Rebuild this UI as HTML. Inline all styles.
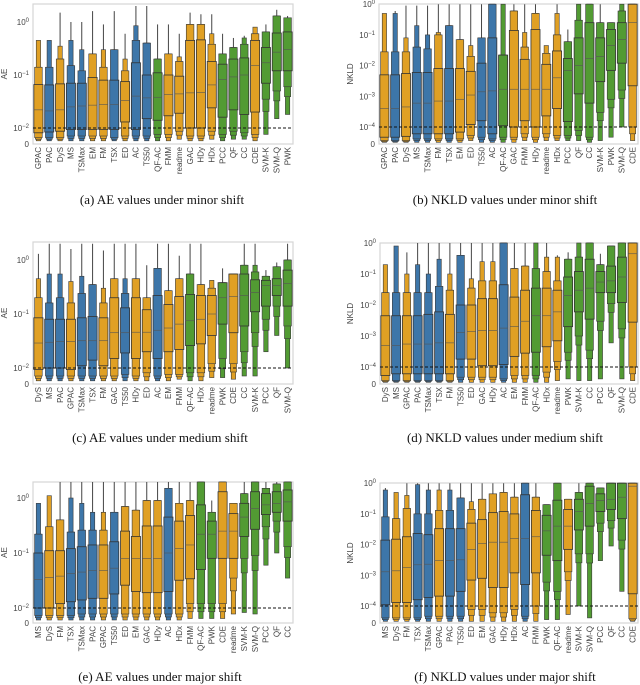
<!DOCTYPE html>
<html><head><meta charset="utf-8">
<style>
html,body{margin:0;padding:0;background:#fff;}
svg{display:block;}
.tk{font-family:"Liberation Sans",sans-serif;font-size:8px;fill:#444;}
.cap{font-family:"Liberation Serif",serif;font-size:13px;fill:#111;}
</style></head>
<body>
<svg id="fig" width="640" height="685" viewBox="0 0 640 685" xmlns="http://www.w3.org/2000/svg"></svg>
<script>
// ---- Panel (a) AE minor ----
const namesA=["GPAC","PAC","DyS","MS","TSMax","EM","FM","TSX","ED","AC","TS50","QF-AC","FMM","readme","GAC","HDy","HDx","PCC","QF","CC","CDE","SVM-K","SVM-Q","PWK"];
const medA=[.022,.021,.022,.025,.026,.027,.028,.028,.033,.04,.037,.038,.043,.044,.046,.047,.065,.083,.092,.1,.15,.17,.27,.3];
const q1A=[.007,.0075,.008,.009,.009,.009,.009,.009,.013,.009,.015,.014,.017,.019,.01,.01,.024,.016,.022,.018,.02,.07,.12,.12];
const q3A=[.066,.065,.068,.07,.07,.09,.08,.08,.075,.17,.1,.11,.1,.095,.45,.46,.18,.16,.2,.21,.45,.33,.62,.65];
const hi2A=[.14,.14,.2,.15,.12,.25,.14,.3,.12,.45,.4,.2,.25,.18,.9,.9,.38,.25,.33,.38,.6,.65,1.3,1.2];
const hi3A=[.45,.45,.35,.45,.3,.25,.3,.3,.2,.85,.4,.2,.25,.22,.9,.9,.6,.25,.33,.5,.8,.65,1.3,1.2];
const topA=[.45,.45,1.5,1,1,1.6,.9,1.6,.6,2,2,.9,.9,.6,1.5,1.4,1.4,.6,.5,.55,.8,.9,1.7,1.3];
const lo2A=[.004,.004,.004,.005,.005,.005,.005,.004,.005,.005,.005,.006,.006,.008,.005,.005,.008,.006,.008,.007,.006,.035,.05,.06];
const lo3A=[.002,.002,.002,.002,.002,.002,.002,.002,.002,.002,.002,.002,.002,.003,.002,.002,.003,.002,.003,.003,.002,.006,.015,.018];
// ---- Panel (b) NKLD minor ----
const namesB=["GPAC","PAC","DyS","MS","TSMax","FM","TSX","EM","ED","TS50","AC","QF-AC","GAC","FMM","HDy","readme","HDx","PCC","QF","CC","SVM-K","PWK","SVM-Q","CDE"];
const medB=[4e-4,4e-4,4.5e-4,6e-4,6e-4,7e-4,7e-4,8e-4,1.1e-3,1.4e-3,1.5e-3,1.7e-3,1.7e-3,1.7e-3,1.7e-3,1.7e-3,4e-3,7e-3,.01,.017,.02,.045,.07,.25];
const q1B=[4e-5,4e-5,4.5e-5,6e-5,6e-5,6e-5,6e-5,7e-5,1.2e-4,1.6e-4,6e-5,1.1e-4,1e-4,1.6e-4,1e-4,2.3e-4,4e-4,1.5e-4,1.2e-3,6e-4,3e-3,7e-3,.012,2.2e-3];
const q3B=[5e-3,5e-3,5.5e-3,6e-3,6e-3,8e-3,8e-3,8e-3,6.5e-3,.012,.08,.022,.14,.016,.15,.011,.03,.017,.08,.25,.08,.15,.25,1];
const hi2B=[.028,.028,.028,.04,.035,.1,.2,.07,.02,.08,1,.022,.6,.04,.5,.025,.1,.06,.3,1,.25,.25,.6,1];
const hi3B=[.5,.5,.08,.2,.1,.12,.2,.07,.045,.08,1,1,.6,.12,.5,.045,.5,.06,1,1,.25,.25,1,1];
const topB=[.5,.6,.9,.9,.9,1,1,1,1,1,1,1,1,1,1,.045,1,.15,1,1,1,.25,1,1];
const lo2B=[2e-5,2e-5,2e-5,3e-5,3e-5,3e-5,3e-5,3e-5,5e-5,4e-5,3e-5,4e-5,4e-5,6e-5,4e-5,6e-5,5e-5,5e-5,8e-5,4e-5,3e-4,8e-4,1.6e-3,1e-4];
const lo3B=[1e-5,1e-5,1e-5,1e-5,1e-5,1e-5,1e-5,1e-5,2e-5,1e-5,1e-5,1e-5,1e-5,2e-5,1e-5,2e-5,2e-5,2e-5,2e-5,1e-5,2e-5,4e-5,1e-4,2e-5];
// ---- Panel (c) AE medium ----
const namesC=["DyS","MS","PAC","GPAC","TSMax","TSX","FM","GAC","TS50","HDy","ED","AC","EM","FMM","QF-AC","HDx","readme","PWK","CDE","CC","SVM-K","PCC","QF","SVM-Q"];
const medC=[.029,.03,.031,.031,.032,.032,.032,.045,.045,.046,.046,.05,.055,.065,.075,.08,.1,.2,.21,.22,.25,.34,.34,.37];
const q1C=[.009,.01,.01,.009,.011,.014,.011,.015,.019,.015,.02,.015,.02,.022,.026,.028,.04,.065,.045,.06,.11,.14,.22,.14];
const q3C=[.085,.08,.08,.08,.085,.09,.085,.2,.13,.2,.12,.22,.15,.21,.23,.22,.22,.38,.55,.55,.43,.42,.45,.65];
const hi2C=[.2,.16,.2,.16,.24,.35,.16,.45,.24,.45,.2,.7,.27,.45,.55,.35,.3,.38,.55,.8,.6,.5,.75,1];
const hi3C=[.45,.55,.55,.4,.5,.35,.3,.45,.45,.45,.2,.7,.27,.45,.55,.35,.42,.38,.55,.8,.8,.5,.75,1];
const topC=[1.3,2,2,1.6,2,2,1.5,2,2,2,.8,2,2,1.2,2,2,.42,.7,.55,2,2,.65,.9,2];
const lo2C=[.005,.005,.005,.005,.005,.005,.005,.005,.006,.005,.007,.005,.006,.006,.007,.007,.012,.015,.012,.02,.045,.08,.14,.06];
const lo3C=[.002,.002,.002,.002,.002,.002,.002,.002,.002,.002,.002,.002,.002,.003,.002,.002,.004,.004,.003,.005,.005,.02,.04,.01];
// ---- Panel (d) NKLD medium ----
const namesD=["DyS","MS","GPAC","PAC","TSMax","TSX","FM","TS50","ED","GAC","HDy","AC","EM","FMM","QF-AC","HDx","readme","PWK","SVM-K","CC","PCC","QF","SVM-Q","CDE"];
const medD=[5e-4,5e-4,5.5e-4,5.5e-4,5.5e-4,6e-4,6e-4,1.3e-3,1.4e-3,1.5e-3,1.5e-3,1.8e-3,2e-3,3e-3,4.5e-3,4.5e-3,6e-3,.02,.03,.035,.055,.06,.08,.45];
const q1D=[5e-5,6e-5,6e-5,6e-5,6e-5,6e-5,6e-5,1.8e-4,1.8e-4,1.1e-4,1.1e-4,1.2e-4,2.2e-4,2.8e-4,3e-4,4.5e-4,7e-4,2e-3,6e-3,3.5e-3,.025,.025,.012,2.8e-3];
const q3D=[4.5e-3,4.5e-3,4.5e-3,4.5e-3,5e-3,6e-3,5e-3,.01,.01,.016,.016,.045,.018,.03,.035,.035,.03,.08,.12,.3,.12,.18,.35,1];
const hi2D=[.025,.025,.025,.025,.025,.04,.03,.4,.035,.06,.06,1,.15,.18,.15,.12,.06,.3,.35,1,.2,.8,1,1];
const hi3D=[.2,.8,.1,.2,.1,.3,.1,.4,.07,.25,.25,1,.15,.18,1,.35,.35,.3,1,1,.2,.8,1,1];
const topD=[.2,.8,.5,1,1,1,1,1,1,1,1,1,1,1,1,1,.4,.5,1,1,.45,.8,1,1];
const lo2D=[2e-5,2e-5,2e-5,2e-5,2e-5,2e-5,2e-5,4e-5,4e-5,4e-5,4e-5,3e-5,5e-5,5e-5,5e-5,7e-5,1.5e-4,3e-4,1e-3,3.5e-4,3e-3,1.1e-2,1.7e-3,1e-4];
const lo3D=[1e-5,1e-5,1e-5,1e-5,1e-5,1e-5,1e-5,1e-5,1e-5,1e-5,1e-5,1e-5,1e-5,1e-5,1e-5,1e-5,2e-5,3e-5,2e-5,2e-5,3e-5,6e-4,3e-5,2e-5];
// ---- Panel (e) AE major ----
const namesE=["MS","DyS","FM","TSX","TSMax","PAC","GPAC","TS50","ED","EM","GAC","HDy","AC","HDx","FMM","QF-AC","PWK","CDE","readme","SVM-K","SVM-Q","PCC","QF","CC"];
const medE=[.033,.036,.038,.042,.045,.048,.048,.053,.08,.08,.08,.08,.1,.12,.14,.22,.22,.25,.25,.45,.65,.75,.8,.85];
const q1E=[.01,.01,.012,.013,.014,.015,.015,.018,.026,.02,.019,.019,.02,.032,.034,.05,.08,.08,.08,.2,.27,.5,.55,.38];
const q3E=[.1,.11,.11,.12,.13,.14,.14,.16,.25,.2,.31,.31,.45,.38,.48,.75,.38,1.3,.52,.8,1.3,1.2,1.3,1.4];
const hi2E=[.22,.3,.4,.24,.26,.26,.26,.55,.7,.6,.9,.9,1.5,.8,.9,2,.55,2,.8,1.2,2,1.5,1.8,2];
const hi3E=[.8,1.1,.4,1,.8,.55,.55,.55,.7,.6,.9,.9,1.5,.8,.9,2,.55,2,.8,1.2,2,1.5,1.8,2];
const topE=[.8,1.1,2,2,2,2,2,2,2,2,2,2,2,2,2,2,.9,2,.8,2,2,2,2,2];
const lo2E=[.005,.005,.005,.005,.006,.006,.006,.006,.006,.006,.006,.006,.006,.006,.012,.012,.012,.012,.035,.08,.09,.3,.38,.13];
const lo3E=[.002,.002,.002,.002,.002,.002,.002,.002,.002,.002,.002,.002,.002,.002,.003,.003,.003,.003,.006,.007,.006,.06,.1,.035];
// ---- Panel (f) NKLD major ----
const namesF=["MS","DyS","FM","TSX","TSMax","GPAC","PAC","TS50","ED","EM","GAC","HDy","HDx","AC","FMM","PWK","QF-AC","readme","SVM-K","SVM-Q","PCC","QF","CC","CDE"];
const medF=[1.3e-3,1.4e-3,1.8e-3,2.2e-3,2.3e-3,3e-3,3e-3,3.2e-3,7e-3,.011,.012,.012,.016,.016,.018,.028,.04,.04,.12,.22,.27,.3,.35,.8];
const q1F=[1.1e-4,1.3e-4,1.3e-4,1.6e-4,1.9e-4,2.1e-4,2.1e-4,3e-4,7e-4,8e-4,4e-4,4e-4,1.2e-3,5e-4,1.2e-3,4.5e-3,3e-3,7e-3,.03,.04,.12,.14,.07,2.5e-4];
const q3F=[.014,.015,.018,.023,.021,.033,.033,.033,.05,.065,.11,.12,.1,.42,.13,.09,.28,.14,.3,.8,.45,1,1,1];
const hi2F=[.08,.07,.15,.1,.1,.13,.13,.33,.14,.3,.45,.5,.35,1,.35,.2,1,.3,.5,1,.7,1,1,1];
const hi3F=[.6,.5,.4,.9,.6,.6,.6,.33,.25,.3,.45,.5,.35,1,.35,.2,1,.3,.5,1,.7,1,1,1];
const topF=[.7,.5,1,1,1,1,1,1,1,1,1,1,1,1,1,.2,1,.3,1,1,.7,1,1,1];
const lo2F=[3e-5,3e-5,3e-5,3e-5,4e-5,4e-5,4e-5,4e-5,8e-5,8e-5,6e-5,6e-5,8e-5,4e-5,1e-4,6e-4,3e-4,1.3e-3,5e-3,5e-3,.05,.06,.014,2.5e-5];
const lo3F=[1e-5,1e-5,1e-5,1e-5,1e-5,1e-5,1e-5,1e-5,1e-5,1e-5,1e-5,1e-5,1e-5,1e-5,1e-5,2e-5,2e-5,5e-5,1e-4,3e-5,3e-3,9e-3,3e-4,1e-5];

const ORANGE="#e0a024",BLUE="#3d76a9",GREEN="#529b33";
const colorOf={GPAC:ORANGE,DyS:ORANGE,EM:ORANGE,FM:ORANGE,ED:ORANGE,FMM:ORANGE,readme:ORANGE,GAC:ORANGE,HDy:ORANGE,HDx:ORANGE,CDE:ORANGE,
PAC:BLUE,MS:BLUE,TSMax:BLUE,TSX:BLUE,AC:BLUE,TS50:BLUE,
"QF-AC":GREEN,PCC:GREEN,QF:GREEN,CC:GREEN,"SVM-K":GREEN,"SVM-Q":GREEN,PWK:GREEN};

const NS="http://www.w3.org/2000/svg";
const svg=document.getElementById('fig');
function mk(tag,attrs,parent){const e=document.createElementNS(NS,tag);for(const k in attrs)e.setAttribute(k,attrs[k]);(parent||svg).appendChild(e);return e;}

function panel(cfg){
  const g=mk('g',{});
  
  
  const x0=cfg.x0,x1=cfg.x1,yt=cfg.yt,yb=cfg.y0;
  function yScale(v){
    if(v<=cfg.thr) return cfg.y0-(v/cfg.thr)*(cfg.y0-cfg.ythr);
    return cfg.ythr-Math.log10(v/cfg.thr)*cfg.dec;
  }
  function yc(v){return Math.max(yt,Math.min(yb,yScale(v)));}
  const n=cfg.names.length, slot=(x1-x0)/n;
  function xScale(i){return x0+slot*(i+0.5);}
  const fr=mk('rect',{x:x0,y:yt,width:x1-x0,height:yb-yt,fill:'#fff',stroke:'#d6d6d6','stroke-width':1.2},g);
  
  
  cfg.ticks.forEach(t=>{
    const y=yScale(t.v);
    const tl=mk('text',{x:x0-4,y:y+3,'text-anchor':'end',class:'tk'},g);
    
    
    if(t.e===null){tl.textContent='0';}
    else{tl.textContent='10';const s=mk('tspan',{dy:-3,'font-size':'6px'},tl);s.textContent=t.e;}
  });
  const yl=mk('text',{x:cfg.ylx,y:(yt+yb)/2,'text-anchor':'middle',class:'tk','font-size':'9px',transform:`rotate(-90 ${cfg.ylx} ${(yt+yb)/2})`},g);
  
  
  yl.textContent=cfg.ylabel;
  const w=slot*0.84;
  for(let i=0;i<n;i++){
    const cx=xScale(i), col=colorOf[cfg.names[i]];
    const bg=mk('g',{},g);
    
    
    mk('line',{x1:cx,x2:cx,y1:yc(cfg.top[i]),y2:yc(cfg.lo3[i]),stroke:'#444','stroke-width':1},bg);
    mk('rect',{x:cx-w*0.24,y:yc(cfg.hi3[i]),width:w*0.48,height:Math.max(0.5,yc(cfg.lo3[i])-yc(cfg.hi3[i])),fill:col,stroke:'#3a3a3a','stroke-width':0.6},bg);
    mk('rect',{x:cx-w*0.34,y:yc(cfg.hi2[i]),width:w*0.68,height:Math.max(0.5,yc(cfg.lo3[i]+(cfg.lo2[i]-cfg.lo3[i])*0.5)-yc(cfg.hi2[i])),fill:col,stroke:'#3a3a3a','stroke-width':0.6},bg);
    mk('rect',{x:cx-w*0.42,y:yc(cfg.hi2[i]),width:w*0.84,height:Math.max(0.5,yc(cfg.lo2[i])-yc(cfg.hi2[i])),fill:col,stroke:'#3a3a3a','stroke-width':0.6},bg);
    mk('rect',{x:cx-w/2,y:yc(cfg.q3[i]),width:w,height:Math.max(0.5,yc(cfg.q1[i])-yc(cfg.q3[i])),fill:col,stroke:'#333','stroke-width':0.8},bg);
    mk('line',{x1:cx-w/2,x2:cx+w/2,y1:yc(cfg.med[i]),y2:yc(cfg.med[i]),stroke:'#555','stroke-width':0.6},bg);
    const lx=cx+2.8, ly=yb+3;
    const xl=mk('text',{x:lx,y:ly,'text-anchor':'end',class:'tk',transform:`rotate(-90 ${lx} ${ly})`},g);
    
    
    xl.textContent=cfg.names[i];
  }
  const dl=mk('line',{x1:x0,x2:x1,y1:cfg.ythr,y2:cfg.ythr,stroke:'#111','stroke-width':0.9,'stroke-dasharray':'3,2'},g);
  
  
  const cp=mk('text',{x:cfg.capx,y:cfg.capy,'text-anchor':'middle',class:'cap'},g);
  
  
  cp.textContent=cfg.caption;
}
const aeT=[{v:0,e:null},{v:.01,e:'−2'},{v:.1,e:'−1'},{v:1,e:'0'}];
const nkT=[{v:0,e:null},{v:1e-4,e:'−4'},{v:1e-3,e:'−3'},{v:1e-2,e:'−2'},{v:.1,e:'−1'},{v:1,e:'0'}];
function d(n,m,q1,q3,h2,h3,t,l2,l3){return {names:n,med:m,q1:q1,q3:q3,hi2:h2,hi3:h3,top:t,lo2:l2,lo3:l3};}
panel(Object.assign(d(namesA,medA,q1A,q3A,hi2A,hi3A,topA,lo2A,lo3A),{id:'panel-a',x0:33,x1:293,yt:4,y0:144,ythr:128,thr:.01,dec:53,ticks:aeT,ylabel:'AE',ylx:7,caption:'(a) AE values under minor shift',capx:162,capy:204}));
panel(Object.assign(d(namesB,medB,q1B,q3B,hi2B,hi3B,topB,lo2B,lo3B),{id:'panel-b',x0:379,x1:638,yt:4,y0:144,ythr:127,thr:1e-4,dec:30.7,ticks:nkT,ylabel:'NKLD',ylx:353,caption:'(b) NKLD values under minor shift',capx:505,capy:204}));
panel(Object.assign(d(namesC,medC,q1C,q3C,hi2C,hi3C,topC,lo2C,lo3C),{id:'panel-c',x0:33,x1:293,yt:242,y0:384,ythr:368,thr:.01,dec:54,ticks:aeT,ylabel:'AE',ylx:7,caption:'(c) AE values under medium shift',capx:160,capy:442}));
panel(Object.assign(d(namesD,medD,q1D,q3D,hi2D,hi3D,topD,lo2D,lo3D),{id:'panel-d',x0:380,x1:638,yt:243,y0:384,ythr:367,thr:1e-4,dec:31,ticks:nkT,ylabel:'NKLD',ylx:353,caption:'(d) NKLD values under medium shift',capx:505,capy:442}));
panel(Object.assign(d(namesE,medE,q1E,q3E,hi2E,hi3E,topE,lo2E,lo3E),{id:'panel-e',x0:33,x1:293,yt:482,y0:623,ythr:608,thr:.01,dec:55,ticks:aeT,ylabel:'AE',ylx:7,caption:'(e) AE values under major shift',capx:160,capy:681}));
panel(Object.assign(d(namesF,medF,q1F,q3F,hi2F,hi3F,topF,lo2F,lo3F),{id:'panel-f',x0:380,x1:638,yt:483,y0:623,ythr:606,thr:1e-4,dec:30.7,ticks:nkT,ylabel:'NKLD',ylx:353,caption:'(f) NKLD values under major shift',capx:505,capy:681}));
</script>
</body></html>
